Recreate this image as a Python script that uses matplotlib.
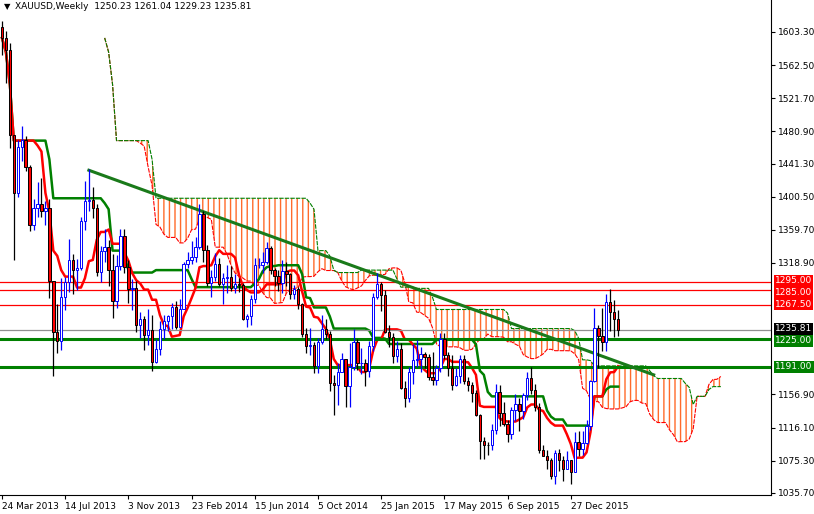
import matplotlib
matplotlib.use("Agg")
import matplotlib.pyplot as plt
import numpy as np
import pandas as pd

title = "XAUUSD,Weekly  1250.23 1261.04 1229.23 1235.81"
first_open = 1610.0
closes = [1596,1581,1476,1405,1462,1470,1437,1365,1386,1392,1383,1387,1297,1234,1223,1277,1295,1322,1310,1313,1371,1395,1396,1387,1308,1333,1338,1310,1272,1315,1352,1314,1287,1288,1243,1250,1230,1236,1197,1213,
 1238,1247,1254,1264,1240,1262,1318,1323,1326,1338,1379,1335,1294,1302,1318,1293,1300,1302,1288,1293,1292,1250,1253,1274,1316,1316,1320,1337,1310,1303,1294,1309,1305,1280,1287,1268,1231,1216,1218,1192,1222,1238,1231,1171,1169,1185,1201,1167,1191,1222,1195,1195,
 1186,1216,1277,1293,1279,1234,1228,1204,1213,1165,1152,1184,1199,1201,1207,1203,1178,1175,1189,1225,1205,1190,1168,1180,1201,1173,1168,1159,1132,1099,1095,1094,1113,1160,1134,1121,1108,1138,1145,1137,1156,1177,1162,1142,1088,1081,1076,1057,1085,1076,1065,1076,
 1061,1098,1090,1097,1118,1174,1239,1229,1221,1271,1259,1250.23,1235.81]
highs = [1617,1605,1590,1440,1470,1488,1475,1440,1397,1418,1424,1395,1397,1297,1268,1300,1302,1348,1330,1324,1376,1420,1434,1412,1392,1340,1361,1347,1330,1329,1361,1361,1323,1299,1296,1259,1253,1262,1255,1225,
 1247,1255,1255,1270,1272,1274,1320,1332,1346,1351,1392,1383,1341,1310,1331,1325,1306,1316,1315,1305,1300,1294,1256,1279,1325,1325,1332,1345,1340,1313,1310,1322,1320,1306,1292,1289,1270,1239,1239,1222,1226,1255,1250,1235,1181,1196,1208,1200,1220,1238,1225,1214,
 1200,1223,1282,1307,1295,1285,1243,1232,1223,1220,1174,1191,1219,1224,1215,1209,1207,1209,1193,1232,1232,1209,1205,1190,1205,1206,1178,1172,1162,1133,1105,1098,1121,1170,1168,1148,1125,1142,1157,1152,1159,1184,1191,1170,1146,1095,1088,1078,1088,1090,1081,1087,
 1075,1111,1112,1112,1125,1175,1263,1242,1263,1280,1287,1273,1261.04]
lows = [1575,1540,1460,1322,1400,1445,1432,1358,1360,1376,1375,1365,1276,1180,1208,1211,1261,1283,1280,1286,1310,1360,1383,1374,1303,1295,1320,1291,1251,1263,1310,1306,1269,1261,1234,1226,1211,1218,1186,1195,
 1205,1225,1235,1238,1238,1240,1262,1312,1318,1320,1336,1320,1290,1277,1296,1291,1268,1282,1284,1282,1283,1249,1240,1242,1270,1312,1306,1318,1305,1290,1284,1282,1291,1274,1275,1262,1227,1208,1206,1183,1183,1219,1225,1161,1131,1144,1187,1141,1142,1187,1187,1182,
 1167,1178,1210,1274,1260,1233,1215,1195,1197,1164,1142,1147,1170,1191,1185,1190,1175,1169,1169,1184,1200,1180,1162,1167,1171,1170,1161,1147,1130,1077,1077,1082,1088,1108,1118,1118,1098,1102,1124,1112,1127,1150,1157,1137,1085,1082,1065,1053,1046,1062,1050,1067,
 1046,1071,1081,1082,1096,1113,1172,1190,1210,1210,1235,1228,1229.23]

x_labels = ["24 Mar 2013","14 Jul 2013","3 Nov 2013","23 Feb 2014","15 Jun 2014","5 Oct 2014",
            "25 Jan 2015","17 May 2015","6 Sep 2015","27 Dec 2015"]
y_ticks = [1603.30,1562.50,1521.70,1480.90,1441.30,1400.50,1359.70,1318.90,1156.90,1116.10,1075.30,1035.70]
red_levels = [1295.00, 1285.00, 1267.50]
green_levels = [1225.00, 1191.00]
last_price = 1235.81
trend_bars = [22, 165]
trend_prices = [1433, 1181]

n = len(closes)
c = pd.Series(closes, dtype=float)
h = pd.Series(highs, dtype=float)
l = pd.Series(lows, dtype=float)
o = c.shift(1); o.iloc[0] = first_open
idx = np.arange(n)

tenkan = (h.rolling(9, min_periods=1).max() + l.rolling(9, min_periods=1).min()) / 2
kijun = (h.rolling(26, min_periods=1).max() + l.rolling(26, min_periods=1).min()) / 2
spanA = (tenkan + kijun) / 2
spanB = (h.rolling(52, min_periods=1).max() + l.rolling(52, min_periods=1).min()) / 2
sx = idx + 26

plt.rcParams['hatch.linewidth'] = 1.0
fig = plt.figure(figsize=(8.14, 5.14), dpi=100)
ax = fig.add_axes([0.0, 19/514, 771/814, 495/514])
ax.set_xlim(-0.5, 194.7)
ax.set_ylim(1033, 1642.7)

# cloud
ax.fill_between(sx, spanA, spanB, facecolor="none", edgecolor="#ff6a2a", hatch="|||", linewidth=0)
ax.plot(sx, spanA, color="red", lw=0.8, ls=(0, (4, 1)))
ax.plot(sx, spanB, color="green", lw=0.8, ls=(0, (4, 1)))

ax.plot(idx, kijun, color="green", lw=1.8)
ax.plot(idx, tenkan, color="red", lw=1.8)

for lv in red_levels:
    ax.axhline(lv, color="red", lw=0.9)
ax.axhline(last_price, color="#909090", lw=0.9)
for lv in green_levels:
    ax.axhline(lv, color="green", lw=2.2)

ax.plot(trend_bars, trend_prices, color="#1a7a1a", lw=2.2)

w = 0.6
for i in range(n):
    bull = c[i] >= o[i]
    edge = "blue" if bull else "black"
    face = "white" if bull else "red"
    ax.vlines(i, l[i], h[i], color=edge, lw=0.9, zorder=3)
    lo, hi = min(o[i], c[i]), max(o[i], c[i])
    ax.add_patch(plt.Rectangle((i - w/2, lo), w, max(hi - lo, 0.8), facecolor=face,
                               edgecolor=edge, lw=0.7, zorder=4))

ax.yaxis.tick_right()
ax.set_yticks(y_ticks)
ax.set_yticklabels([f"{v:.2f}" for v in y_ticks], fontsize=6.5)
ax.set_xticks([16*k for k in range(len(x_labels))])
ax.set_xticklabels(x_labels, fontsize=6.5, ha="left")
ax.tick_params(length=3, pad=2)
for s in ["top", "left"]:
    ax.spines[s].set_visible(False)

def box(v, bg, fg="white", dy=0.0):
    ax.text(1.005, v + dy, f"{v:.2f}", transform=ax.get_yaxis_transform(), fontsize=6.5,
            color=fg, va="center", ha="left",
            bbox=dict(boxstyle="square,pad=0.15", fc=bg, ec="none"), zorder=10, clip_on=False)
box(red_levels[0], "red", dy=2)
box(red_levels[1], "red", dy=-3)
box(red_levels[2], "red")
box(last_price, "black", dy=2)
box(green_levels[0], "green", dy=-2)
box(green_levels[1], "green")

ax.text(0.005, 0.995, "\u25BC", transform=ax.transAxes, fontsize=6, va="top")
ax.text(0.02, 0.995, title, transform=ax.transAxes, fontsize=6.5, va="top")
fig.savefig("out.png", dpi=100)
